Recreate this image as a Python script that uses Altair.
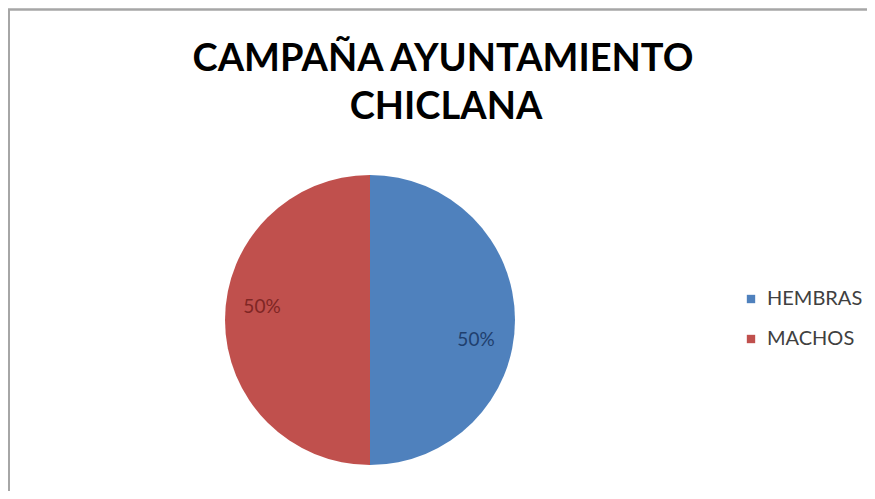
import altair as alt
import pandas as pd

categories = ["HEMBRAS", "MACHOS"]
values = [50, 50]
labels = ["50%", "50%"]
colors = ["#4F81BD", "#C0504D"]
title_lines = ["CAMPAÑA AYUNTAMIENTO", "CHICLANA"]

df = pd.DataFrame({"category": categories, "value": values, "label": labels,
                   "order": list(range(len(categories)))})

W, H = 859, 483
CX, CY = 362, 312
R = 145

base = alt.Chart(df)

pie = base.mark_arc(outerRadius=R).encode(
    theta=alt.Theta("value:Q", stack=True),
    order=alt.Order("order:Q"),
    color=alt.Color(
        "category:N",
        scale=alt.Scale(domain=categories, range=colors),
        legend=alt.Legend(
            title=None, orient="none", legendX=733, legendY=281,
            symbolType="square", symbolSize=70, symbolStrokeWidth=0,
            labelFontSize=20, labelFont="Lato", labelColor="#404040",
            labelOffset=6, rowPadding=20, padding=0,
        ),
    ),
    x=alt.value(CX), y=alt.value(CY),
)

def label_layer(cat, color, dx, dy):
    return base.mark_text(radius=108, font="Lato", fontSize=19, color=color,
                          dx=dx, dy=dy).encode(
        theta=alt.Theta("value:Q", stack=True),
        order=alt.Order("order:Q"),
        text=alt.condition(alt.datum.category == cat, "label:N", alt.value("")),
        x=alt.value(CX), y=alt.value(CY),
    )

lab_h = label_layer("HEMBRAS", "#1F3F6E", -2, 20)
lab_m = label_layer("MACHOS", "#7F2624", 0, -13)

title_df = pd.DataFrame({"t": title_lines, "i": [0, 1]})
t1 = alt.Chart(title_df).transform_filter(alt.datum.i == 0).mark_text(
    font="Lato", fontWeight="bold", fontSize=38, color="#000000",
    align="center", baseline="alphabetic").encode(
    text="t:N", x=alt.value(435), y=alt.value(63))
t2 = alt.Chart(title_df).transform_filter(alt.datum.i == 1).mark_text(
    font="Lato", fontWeight="bold", fontSize=38, color="#000000",
    align="center", baseline="alphabetic").encode(
    text="t:N", x=alt.value(438), y=alt.value(111))

top_rule = base.mark_rule(color="#a6a6a6", strokeWidth=2).encode(
    x=alt.value(0), x2=alt.value(W), y=alt.value(1.5))
left_rule = base.mark_rule(color="#a6a6a6", strokeWidth=2).encode(
    x=alt.value(1), y=alt.value(1), y2=alt.value(H))

chart = alt.layer(top_rule, left_rule, pie, lab_h, lab_m, t1, t2).properties(
    width=W, height=H, padding=0, autosize=alt.AutoSizeParams(type="none")
).configure_view(stroke=None)

chart.save("out.html", embed_options={"renderer": "svg", "actions": False})
